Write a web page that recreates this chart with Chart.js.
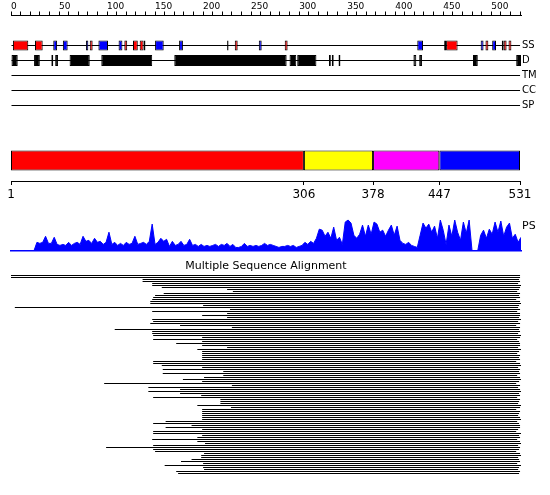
<!DOCTYPE html>
<html>
<head>
<meta charset="utf-8">
<script src="https://cdn.jsdelivr.net/npm/chart.js@4.4.1/dist/chart.umd.min.js"></script>
<style>
  html, body { margin: 0; padding: 0; background: #fff; }
  #wrap { position: relative; width: 550px; height: 495px; }
  #wrap canvas { position: absolute; left: 0; }
</style>
</head>
<body>
<div id="wrap">
  <canvas id="tracks" width="550" height="115" style="top:0"></canvas>
  <canvas id="domains" width="550" height="70" style="top:140px"></canvas>
  <canvas id="ps" width="550" height="42" style="top:212px"></canvas>
  <canvas id="msa" width="550" height="240" style="top:255px"></canvas>
</div>
<script>
const SEQ_LENGTH = 531;
const trackNames = ['SS', 'D', 'TM', 'CC', 'SP'];

// secondary structure, residue ranges
const helices = [[2, 18], [25, 33], [82, 85], [118, 121], [127, 132], [134, 138], [233, 236], [285, 288],
  [453, 465], [494, 497], [513, 516], [518, 521]];
const strands = [[44, 48], [54, 59], [78, 80.5], [91, 101], [112, 116], [138, 140], [150, 159], [175, 179],
  [225, 226.5], [258, 261], [423, 429], [451, 453], [489, 492], [501, 505], [511, 513]];
const disorder = [[0, 7], [24, 30], [42, 44], [46, 49], [61, 82], [94, 147], [170, 287], [290, 297], [298, 318],
  [331, 333], [334, 336], [341, 343], [419, 422], [425, 428], [481, 486], [526, 531]];

const domainBounds = [1, 306, 378, 447, 531];
const domainColors = ['#ff0000', '#ffff00', '#ff00ff', '#0000ff'];

// PS profile, one value every psStep residues
const psStep = 3;
const psValues = [0, 0, 0, 0, 0, 0, 0, 0, 0,
  8, 7, 8, 14, 7, 7, 13, 6, 5, 6, 5, 8, 5, 7, 8, 6, 14, 9, 10, 7, 12, 8, 9, 6, 8, 18,
  6, 8, 5, 7, 5, 8, 6, 7, 14, 6, 7, 8, 6, 9, 26, 6, 8, 12, 9, 11, 4, 9, 5, 6, 9,
  5, 6, 11, 5, 6, 4, 6, 4, 5, 4, 5, 6, 4, 6, 5, 7, 4, 6, 3, 3, 4, 7, 4, 5, 4,
  5, 4, 5, 7, 5, 6, 5, 4, 3, 4, 4, 5, 4, 5, 3, 4, 5, 8, 6, 9, 7, 12, 21, 20, 14,
  18, 12, 23, 10, 13, 6, 28, 30, 27, 15, 12, 16, 25, 14, 25, 16, 28, 26, 18, 20, 14, 20, 25, 15, 24,
  10, 7, 6, 8, 5, 4, 3, 15, 27, 22, 26, 18, 24, 12, 30, 20, 6, 25, 14, 30, 18, 10, 28, 17, 30,
  0, 0, 0, 15, 20, 12, 21, 16, 28, 18, 29, 14, 23, 27, 12, 16, 8, 13];

// alignment rows, first and last aligned residue
const msaStarts = [0, 0, 137, 137, 147, 147, 157, 225, 231, 159,
  150, 148, 147, 145, 145, 200, 4, 228, 147, 225,
  199, 225, 147, 148, 145, 176, 230, 108, 147, 147,
  148, 199, 148, 199, 172, 199, 225, 194, 199, 199,
  199, 199, 199, 148, 148, 157, 199, 158, 221, 158,
  221, 201, 179, 199, 97, 230, 143, 176, 143, 176,
  198, 148, 218, 218, 218, 194, 229, 199, 199, 199,
  199, 199, 199, 161, 148, 188, 161, 199, 148, 148,
  199, 194, 147, 194, 202, 148, 99, 148, 150, 201,
  198, 198, 188, 177, 200, 160, 200, 201, 172, 174];
const msaEnds = [530, 530, 529, 530, 528, 531, 530, 529, 527, 530,
  529, 530, 526, 530, 531, 529, 528, 530, 527, 530,
  530, 529, 531, 528, 530, 526, 530, 529, 530, 528,
  531, 530, 527, 529, 530, 530, 528, 531, 529, 527,
  530, 529, 530, 526, 530, 531, 528, 530, 529, 530,
  527, 530, 531, 529, 526, 530, 528, 530, 531, 529,
  530, 527, 530, 529, 528, 531, 530, 526, 530, 529,
  528, 530, 531, 527, 529, 530, 530, 528, 526, 531,
  529, 530, 527, 530, 531, 528, 530, 529, 526, 530,
  531, 528, 529, 530, 527, 531, 529, 528, 530, 529];

Chart.defaults.font.family = 'DejaVu Sans';
Chart.defaults.color = '#000';
Chart.defaults.animation = false;
Chart.defaults.responsive = false;
Chart.defaults.plugins.legend.display = false;
Chart.defaults.plugins.tooltip.enabled = false;

function toBars(list, track) {
  return list.map(([a, b]) => ({ x: [a, b], y: track }));
}

// keep the label overhang of an axis from shrinking the plot area
function noPad(s) {
  s.paddingTop = 0;
  s.paddingBottom = 0;
  s.paddingLeft = 0;
  s.paddingRight = 0;
}

const boxStyle = { borderColor: '#000', borderWidth: 1, borderSkipped: false, grouped: false, inflateAmount: 0 };

new Chart(document.getElementById('tracks'), {
  type: 'bar',
  data: {
    datasets: [
      { ...boxStyle, data: toBars(helices, 0), backgroundColor: '#ff0000', barThickness: 10 },
      { ...boxStyle, data: toBars(strands, 0), backgroundColor: '#0000ff', barThickness: 10 },
      { ...boxStyle, data: toBars(disorder, 1), backgroundColor: '#000', barThickness: 11 },
      {
        data: trackNames.map((n, i) => ({ x: [0, 530], y: i })),
        backgroundColor: '#000', borderWidth: 0, barThickness: 1, grouped: false, inflateAmount: 0,
      },
    ],
  },
  options: {
    indexAxis: 'y',
    layout: { padding: { left: 11, right: 0, top: 0, bottom: 2 } },
    scales: {
      x: {
        type: 'linear', position: 'top', min: 0, max: SEQ_LENGTH, offset: false,
        grid: { drawOnChartArea: false, drawTicks: true, tickLength: 4, color: '#000' },
        border: { color: '#000' },
        ticks: {
          stepSize: 10, includeBounds: false, autoSkip: false, maxRotation: 0, minRotation: 0,
          align: 'start', padding: -1, font: { size: 9 },
          callback: (v) => (v % 50 === 0 ? String(v) : ''),
        },
        afterFit: (s) => { s.height = 15.5; noPad(s); },
      },
      y: {
        type: 'linear', position: 'right', reverse: true, min: -2, max: 4.5, offset: false,
        grid: { display: false, drawTicks: false }, border: { display: false },
        afterBuildTicks: (s) => { s.ticks = trackNames.map((n, i) => ({ value: i })); },
        ticks: { padding: 1, font: { size: 10 }, callback: (v) => trackNames[v] },
        afterFit: (s) => { s.width = 29; noPad(s); },
      },
    },
  },
});

new Chart(document.getElementById('domains'), {
  type: 'bar',
  data: {
    datasets: [{
      ...boxStyle,
      data: domainColors.map((c, i) => ({ x: [domainBounds[i], domainBounds[i + 1]], y: 0 })),
      backgroundColor: domainColors,
      barThickness: 20,
    }],
  },
  options: {
    indexAxis: 'y',
    layout: { padding: { left: 11, right: 30, top: 0, bottom: 0 } },
    scales: {
      x: {
        type: 'linear', position: 'bottom', min: 1, max: SEQ_LENGTH, offset: false,
        grid: { drawOnChartArea: false, tickLength: 4, color: '#000' },
        border: { color: '#000' },
        afterBuildTicks: (s) => { s.ticks = domainBounds.map((v) => ({ value: v })); },
        ticks: { autoSkip: false, maxRotation: 0, padding: 3, font: { size: 12 } },
        afterFit: (s) => { s.height = 29; noPad(s); },
      },
      y: { type: 'linear', min: -1, max: 1, display: false, offset: false },
    },
  },
});

new Chart(document.getElementById('ps'), {
  type: 'line',
  data: {
    datasets: [{
      data: psValues.map((v, i) => ({ x: i * psStep, y: v })),
      borderColor: '#0000ff',
      backgroundColor: '#0000ff',
      borderWidth: 1,
      fill: 'origin',
      pointRadius: 0,
      tension: 0,
    }],
  },
  options: {
    layout: { padding: { left: 11, right: 0, top: 7, bottom: 3.5 } },
    scales: {
      x: {
        type: 'linear', min: 0, max: SEQ_LENGTH, offset: false,
        grid: { display: false, drawTicks: false },
        ticks: { display: false },
        border: { display: true, color: '#0000ff', width: 1.5 },
        afterFit: (s) => { s.height = 0; noPad(s); },
      },
      y: {
        type: 'linear', position: 'right', min: 0, max: 31,
        grid: { display: false, drawTicks: false }, border: { display: false },
        afterBuildTicks: (s) => { s.ticks = [{ value: 24 }]; },
        ticks: { padding: 1, font: { size: 11 }, callback: () => 'PS' },
        afterFit: (s) => { s.width = 29; noPad(s); },
      },
    },
  },
});

new Chart(document.getElementById('msa'), {
  type: 'bar',
  data: {
    datasets: [{
      data: msaStarts.map((s, i) => ({ x: [s, msaEnds[i]], y: i })),
      backgroundColor: '#000',
      borderWidth: 0,
      barThickness: 1,
      inflateAmount: 0,
    }],
  },
  options: {
    indexAxis: 'y',
    layout: { padding: { left: 11, right: 29, top: 0, bottom: 20.5 } },
    scales: {
      x: { type: 'linear', min: 0, max: SEQ_LENGTH, display: false },
      y: { type: 'linear', min: -0.5, max: 99.5, reverse: true, display: false, offset: false },
    },
    plugins: {
      title: {
        display: true,
        text: 'Multiple Sequence Alignment',
        color: '#000',
        font: { size: 11, weight: 'normal' },
        padding: { top: 5, bottom: 1.3 },
      },
    },
  },
});
</script>
</body>
</html>
